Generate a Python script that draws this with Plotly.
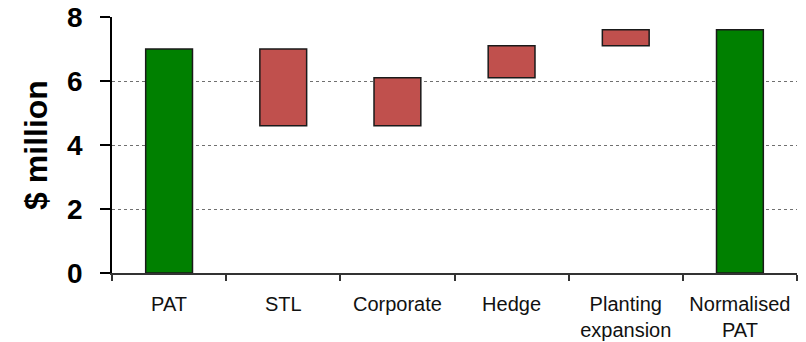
import plotly.graph_objects as go

# Bridge from reported PAT to normalised PAT ($ million)
categories = ["PAT", "STL", "Corporate", "Hedge", "Planting<br>expansion", "Normalised<br>PAT"]
measures = ["absolute", "relative", "relative", "relative", "relative", "total"]
changes = [7.0, -2.4, 1.5, 1.0, 0.5, 0]
y_ticks = [0, 2, 4, 6, 8]

GREEN = "#008000"
RED = "#C0504D"
OUTLINE = dict(color="#1a1a1a", width=1.5)
FONT = "Liberation Sans, Arial, sans-serif"

fig = go.Figure(
    go.Waterfall(
        x=categories,
        y=changes,
        measure=measures,
        width=0.41,
        increasing=dict(marker=dict(color=RED, line=OUTLINE)),
        decreasing=dict(marker=dict(color=RED, line=OUTLINE)),
        totals=dict(marker=dict(color=GREEN, line=OUTLINE)),
        connector=dict(visible=False),
        hoverinfo="x+y",
    )
)

fig.update_layout(
    width=806,
    height=342,
    margin=dict(l=112, r=9, t=17, b=69),
    plot_bgcolor="white",
    paper_bgcolor="white",
    showlegend=False,
    font=dict(family=FONT, color="black"),
)

fig.update_xaxes(
    type="category",
    automargin=False,
    showline=True,
    linecolor="#333333",
    linewidth=2,
    ticks="outside",
    tickson="boundaries",
    ticklen=6,
    tickcolor="#333333",
    tickwidth=1.5,
    showgrid=False,
    tickfont=dict(size=20, family=FONT, color="#111111"),
    ticklabelstandoff=12,
)

fig.update_yaxes(
    range=[0, 8],
    automargin=False,
    tickvals=y_ticks,
    showline=True,
    linecolor="black",
    linewidth=1.5,
    ticks="outside",
    ticklen=10,
    tickcolor="black",
    tickwidth=1.5,
    showgrid=True,
    gridcolor="#707070",
    gridwidth=1,
    griddash="dot",
    zeroline=False,
    tickfont=dict(size=28, family=FONT, color="black", weight="bold"),
    ticklabelstandoff=12,
    title=dict(
        text="$ million",
        font=dict(size=32, family=FONT, color="black", weight="bold"),
        standoff=10,
    ),
)

fig.write_html("out.html")
